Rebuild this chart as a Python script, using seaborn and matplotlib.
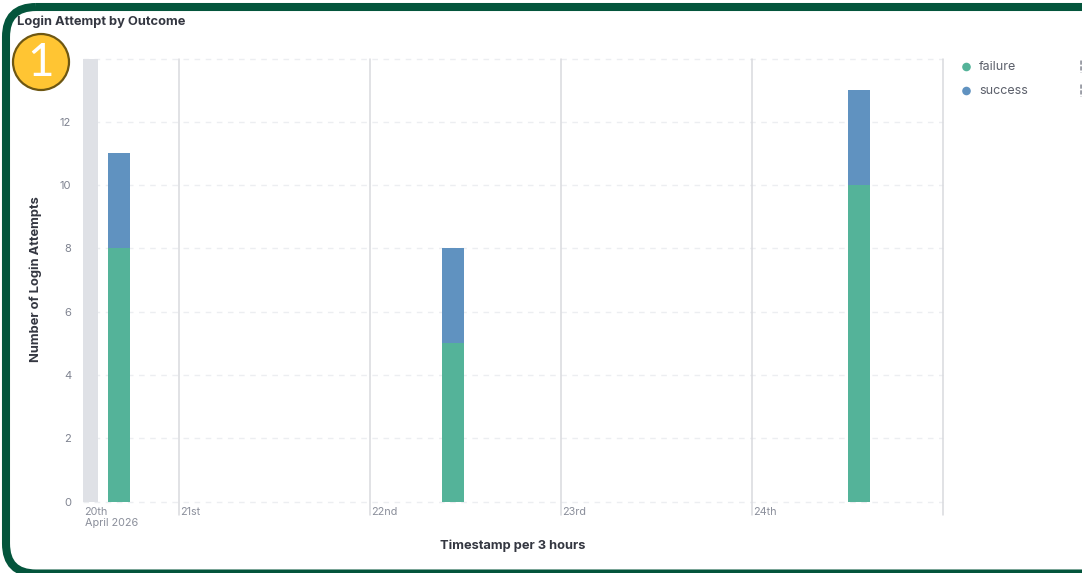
import matplotlib
matplotlib.use("Agg")
import matplotlib.pyplot as plt
from matplotlib.patches import FancyBboxPatch, Circle
from matplotlib.lines import Line2D
import pandas as pd
import seaborn as sns

# Login counts per 3-hour bucket; time is in days since 20 April 00:00
bucket_day = [0.625, 0.625, 2.375, 2.375, 4.5, 4.5]
outcome = ["failure", "success", "failure", "success", "failure", "success"]
attempts = [8, 3, 5, 3, 10, 3]

hue_levels = ["success", "failure"]
palette = {"failure": "#54B399", "success": "#6092C0"}
y_ticks = [0, 2, 4, 6, 8, 10, 12]
day_ticks = [1, 2, 3, 4, 5]
day_labels = ["21st", "22nd", "23rd", "24th"]

W, H = 1082, 573
FONT = "Inter"
sns.set_style("white")
plt.rcParams["font.family"] = [FONT, "DejaVu Sans"]
plt.rcParams["path.simplify"] = False

fig = plt.figure(figsize=(W / 100, H / 100), dpi=100, facecolor="white")
L, R, T, B = 83, 942.5, 58.5, 501.5
ax = fig.add_axes([L / W, 1 - B / H, (R - L) / W, (B - T) / H])

df = pd.DataFrame({"day": bucket_day, "outcome": outcome, "attempts": attempts})
sns.histplot(
    data=df, x="day", weights="attempts", hue="outcome", hue_order=hue_levels,
    multiple="stack", binwidth=0.125, binrange=(0.5, 5.0), shrink=0.92,
    palette=palette, alpha=1, linewidth=0, legend=False, ax=ax, zorder=3,
)

ax.set_xlim(0.5, 5.0)
ax.set_ylim(0, 14)
ax.set_yticks(y_ticks)
ax.set_xticks([])
ax.tick_params(axis="y", length=0, pad=8.5, labelsize=8, labelcolor="#7f8390")
for s in ax.spines.values():
    s.set_visible(False)
ax.patch.set_alpha(0)

# Horizontal dashed grid, including the top edge and the baseline
for v in y_ticks + [14]:
    ax.axhline(v, color="#eceef1", lw=1, ls=(0, (4, 4)), zorder=1, clip_on=False)

# Region before the start of the query range
ax.axvspan(0.5, 0.576, color="#dfe1e6", lw=0, zorder=2)

# Day separators run below the plot area down past the tick labels
trans = ax.get_xaxis_transform()
for d in day_ticks:
    ax.add_line(Line2D([d, d], [-13.5 / (B - T), 1], transform=trans, color="#d9dade",
                       lw=1.1, clip_on=False, zorder=2))

lab_kw = dict(transform=trans, fontsize=7.8, color="#8b8f9b", va="center", ha="left")
ax.text(0.508, -10.5 / (B - T), "20th", **lab_kw)
ax.text(0.508, -21.5 / (B - T), "April 2026", **lab_kw)
for d, t in zip(day_ticks, day_labels):
    ax.text(d + 0.008, -10.5 / (B - T), t, **lab_kw)

ax.set_xlabel("")
ax.set_ylabel("")

# Everything below is placed in pixel coordinates on the whole figure
over = fig.add_axes([0, 0, 1, 1], zorder=5)
over.set_xlim(0, W)
over.set_ylim(H, 0)
over.axis("off")

# Panel border: the right side runs off the canvas, the bottom edge sits at its lower rim
over.add_patch(FancyBboxPatch((6, 7), W + 60, 573.5 - 7,
                              boxstyle="round,pad=0,rounding_size=30",
                              fc="none", ec="#04553C", lw=5.8, clip_on=False))
over.add_patch(Circle((41, 62), 28, fc="#FFC533", ec="#6E5712", lw=1.6))
over.text(41, 63, "1", fontsize=33, color="white", ha="center", va="center",
          family="Lato", fontweight="regular")

bold_kw = dict(fontsize=9.3, fontweight="bold", color="#343741", va="center")
over.text(17, 22, "Login Attempt by Outcome", ha="left", **bold_kw)
over.text(513, 545.5, "Timestamp per 3 hours", ha="center", **bold_kw)
over.text(35.5, 279.5, "Number of Login Attempts", ha="center", rotation=90, **bold_kw)

for yy, name in zip([67, 91], ["failure", "success"]):
    over.add_patch(Circle((966.5, yy), 4.3, fc=palette[name], ec="none"))
    over.text(979, yy - 0.5, name, fontsize=9, color="#5c606b", va="center", ha="left")
    # Legend values are clipped by the panel edge, leaving a sliver of dots
    over.add_line(Line2D([1081, 1081], [yy - 7, yy + 5], color="#9a9da6", lw=2,
                         ls=(0, (1.5, 0.6))))

fig.savefig("out.png", dpi=100)
